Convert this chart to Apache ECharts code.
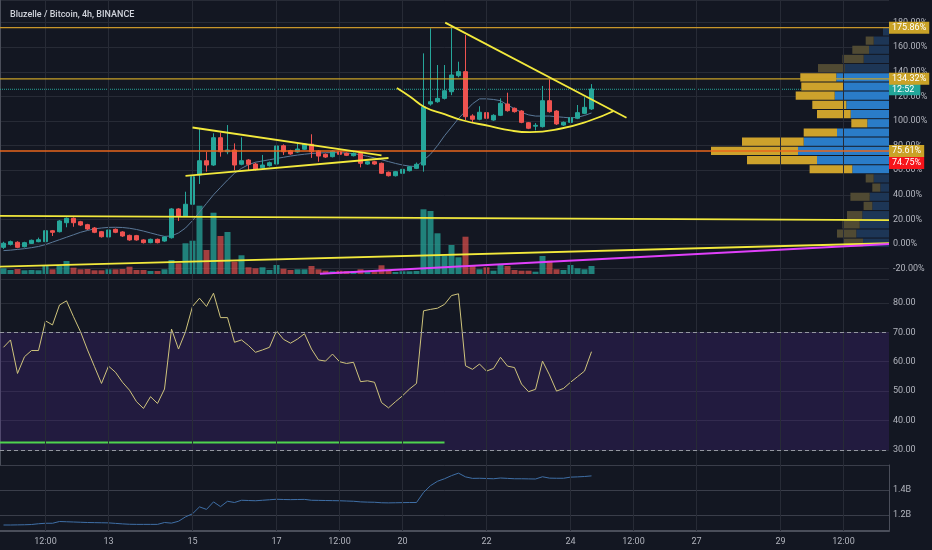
<!DOCTYPE html>
<html>
<head>
<meta charset="utf-8">
<script src="https://cdn.jsdelivr.net/npm/echarts@6.0.0/dist/echarts.min.js"></script>
<style>
  html, body { margin: 0; padding: 0; background: #131722; }
  #chart { width: 932px; height: 550px; }
</style>
</head>
<body>
<div id="chart"></div>
<script>
// ---------- time slots (4h candles, starting day 10 12:00) ----------
const slots = [];
for (let i = 0; i < 127; i++) {
  const h = 12 + 4 * i;
  slots.push((10 + Math.floor(h / 24)) + ' ' + String(h % 24).padStart(2, '0') + ':00');
}
const tickIndex = [6, 15, 27, 39, 48, 57, 69, 81, 90, 99, 111, 120];
const tickText = ['12:00', '13', '15', '17', '12:00', '20', '22', '24', '12:00', '27', '29', '12:00'];

// ---------- candles: [open, close, low, high] in % ----------
const candles = [
  [-2.7, 0.6, -4.0, 1.8], [-0.3, 1.9, -1.2, 2.8], [1.4, -2.7, -3.4, 2.2], [-2.2, 1.1, -2.8, 1.8],
  [0.5, 3.0, 0.0, 3.6], [1.9, 3.5, 1.4, 5.2], [1.9, 10.8, 1.4, 11.6], [10.8, 9.5, 6.5, 11.4],
  [10.0, 18.7, 9.4, 19.4], [17.3, 20.9, 13.6, 21.6], [20.9, 17.3, 14.0, 21.6], [18.1, 15.4, 14.6, 18.8],
  [15.7, 12.2, 11.4, 16.4], [13.0, 9.5, 8.8, 13.8], [10.0, 5.9, 5.2, 10.6], [5.7, 11.4, 5.0, 12.0],
  [11.9, 9.5, 8.8, 12.6], [9.8, 6.5, 5.8, 10.4], [7.0, 3.3, 2.6, 7.6], [6.8, 3.3, 2.7, 7.4],
  [3.3, 1.1, 0.4, 3.9], [1.1, 3.8, 0.6, 4.4], [3.8, 1.1, 0.5, 4.4], [2.4, 5.7, 1.8, 6.3],
  [5.1, 28.5, 4.4, 29.2], [28.5, 22.8, 18.7, 29.1], [22.8, 32.3, 22.0, 42.5], [32.3, 54.7, 31.5, 56.0],
  [56.1, 67.7, 48.8, 94.0], [67.7, 64.2, 58.8, 75.0], [64.2, 86.4, 63.5, 90.0], [86.4, 75.0, 71.0, 90.5],
  [75.0, 76.4, 73.0, 96.7], [76.4, 64.2, 60.0, 81.8], [64.8, 67.7, 64.0, 86.7], [68.3, 64.8, 59.4, 69.0],
  [65.0, 60.7, 59.8, 66.0], [62.0, 64.2, 61.3, 72.4], [63.7, 66.1, 63.0, 67.0], [65.0, 79.7, 64.3, 81.8],
  [79.9, 75.0, 72.4, 81.0], [75.9, 73.2, 72.5, 76.6], [74.8, 77.2, 74.2, 81.8], [77.0, 81.3, 76.4, 82.0],
  [81.1, 75.0, 70.0, 89.2], [75.6, 71.5, 66.9, 76.3], [72.9, 70.7, 70.0, 73.6], [71.0, 75.6, 70.4, 76.4],
  [75.0, 72.9, 72.3, 75.7], [73.7, 72.1, 71.5, 74.4], [71.8, 73.7, 71.2, 74.4], [73.7, 65.6, 62.3, 74.8],
  [65.0, 66.9, 64.4, 67.6], [66.9, 65.0, 64.4, 67.6], [65.6, 57.5, 56.9, 66.2], [58.3, 55.5, 54.9, 58.9],
  [55.5, 58.8, 54.9, 59.4], [57.5, 60.7, 56.9, 61.3], [59.6, 62.8, 59.0, 63.4], [61.5, 64.8, 60.9, 66.2],
  [64.2, 111.6, 58.8, 155.0], [113.8, 115.7, 112.5, 175.4], [115.7, 118.4, 114.8, 145.5], [118.4, 124.6, 117.5, 145.5],
  [123.8, 137.4, 121.0, 176.7], [136.8, 140.1, 135.5, 148.2], [140.1, 103.5, 100.8, 169.9], [104.1, 101.4, 98.6, 105.5],
  [101.4, 107.1, 100.6, 112.0], [106.8, 102.2, 101.4, 109.0], [100.8, 104.6, 100.2, 105.5], [104.6, 114.4, 104.0, 118.4],
  [113.8, 108.4, 107.6, 123.0], [110.3, 107.6, 106.8, 111.0], [108.1, 98.9, 98.2, 108.8], [98.6, 94.1, 93.4, 99.2],
  [95.8, 96.5, 92.4, 98.3], [95.4, 116.5, 94.7, 128.5], [116.5, 107.6, 106.8, 133.9], [108.1, 97.6, 96.8, 108.8],
  [96.7, 98.9, 96.0, 99.6], [98.9, 102.7, 98.2, 120.3], [102.2, 106.8, 101.5, 113.0], [106.2, 111.1, 105.5, 119.3],
  [109.8, 126.0, 109.0, 130.0]
];

// moving average line
const maValues = [
  -5.4, -5.0, -4.4, -3.8, -3.0, -2.0, -0.5, 1.5, 3.5, 5.5, 7.5, 9.5, 11.0, 12.3, 13.0, 13.5, 13.6, 13.4, 12.8, 11.8,
  10.5, 9.0, 7.5, 6.2, 6.5, 9.0, 13.0, 19.0, 26.0, 33.0, 40.0, 46.0, 52.0, 57.5, 61.5, 64.5, 66.5, 67.5, 68.5, 69.5,
  70.5, 71.5, 72.3, 73.0, 73.6, 74.0, 74.2, 74.3, 74.2, 74.0, 73.5, 72.5, 71.3, 70.0, 68.5, 67.0, 65.5, 64.2, 63.3, 63.0,
  68.0, 73.0, 80.0, 88.0, 95.0, 102.0, 108.0, 114.0, 118.0, 118.0, 117.5, 116.5, 113.0, 110.0, 107.0, 105.0, 104.0, 104.0, 104.0, 103.5,
  103.0, 102.5, 103.0, 104.5, 106.5
];

// relative volume
const volumes = [
  5.7, 4, 5, 3.7, 4, 3.7, 8, 4.7, 8, 13, 6.3, 4.7, 5, 3.7, 3.7, 4.7, 4.7, 5, 7.3, 4,
  4, 3, 3, 4.7, 14, 10.7, 30.7, 33.3, 68.3, 24, 61.3, 38, 42, 12.3, 18.7, 6.7, 5.7, 6.7, 4, 9,
  5.3, 4, 4.7, 4.7, 8, 4.7, 3.3, 2.7, 3.3, 3, 3, 4.7, 2.7, 2.7, 8.7, 3.7, 2, 2.7, 2.7, 3,
  64.7, 63, 40.7, 18, 29, 16.7, 37.3, 9, 4.7, 6.7, 3.3, 9, 8, 4, 3.3, 3.3, 2.3, 18, 13.3, 4.7,
  4, 9, 5.7, 4.7, 8
];

// RSI
const rsiValues = [
  64.9, 67.4, 56.0, 61.7, 63.8, 63.8, 73.9, 72.5, 79.3, 80.7, 75.3, 70.2, 64.0, 58.3, 52.6, 58.5, 56.4, 53.0, 50.3, 46.4,
  44.1, 48.1, 45.8, 50.7, 71.1, 64.3, 70.2, 78.8, 81.6, 78.8, 83.3, 75.0, 75.0, 66.6, 67.4, 65.5, 63.2, 64.0, 64.9, 70.5,
  67.6, 66.3, 67.7, 69.5, 64.3, 60.6, 60.2, 62.6, 60.0, 59.4, 59.8, 53.2, 53.5, 53.0, 46.1, 44.3, 46.4, 48.4, 50.7, 52.6,
  77.3, 77.8, 78.2, 79.5, 82.5, 83.1, 58.6, 57.4, 59.2, 56.8, 57.7, 61.5, 58.5, 58.0, 52.4, 49.8, 50.6, 60.2, 55.5, 50.0,
  50.9, 53.0, 54.9, 56.8, 63.4
];
const rsiBandLow = 30, rsiBandHigh = 70;
const rsiGreenLevel = [[0, 32.5], [63.5, 32.5]];

// OBV (billions)
const obvValues = [
  1.120, 1.120, 1.121, 1.122, 1.124, 1.130, 1.134, 1.134, 1.148, 1.146, 1.144, 1.142, 1.140, 1.139, 1.138, 1.137, 1.133, 1.129, 1.126, 1.125,
  1.125, 1.125, 1.125, 1.140, 1.135, 1.150, 1.185, 1.210, 1.265, 1.245, 1.305, 1.267, 1.310, 1.300, 1.318, 1.316, 1.314, 1.318, 1.322, 1.326,
  1.324, 1.323, 1.324, 1.325, 1.318, 1.317, 1.316, 1.315, 1.314, 1.312, 1.310, 1.305, 1.303, 1.302, 1.298, 1.297, 1.298, 1.299, 1.300, 1.300,
  1.380, 1.435, 1.470, 1.490, 1.515, 1.535, 1.505, 1.493, 1.494, 1.492, 1.490, 1.496, 1.493, 1.490, 1.490, 1.489, 1.488, 1.506, 1.495, 1.494,
  1.494, 1.503, 1.505, 1.508, 1.513
];

// price levels (horizontal lines with badges)
const levelValues = [175.86, 134.32, 74.75, 75.61];
const currentPrice = 125.8;
const countdownText = '12:52';

// trend lines: [slot position, %]
const trendFlat = [[0, 22.9], [127, 19.4]];
const trendRising = [[0, -18.4], [127, 0.6]];
const trendMagenta = [[45.7, -24.2], [127, 0]];
const triUpper = [[27.5, 94.7], [54.5, 72.1]];
const triLower = [[26.5, 55.3], [55.5, 69.9]];
const wedgeTop = [[63.6, 180.0], [89.5, 102.6]];
const cupCurve = [[56.7, 126.9], [58.6, 119.8], [60.7, 111.2], [63.6, 105.3], [66.2, 100.4], [70, 95.8],
                  [72.9, 92.3], [75.7, 90.9], [80, 93.7], [84.3, 100.4], [87.6, 107.9]];

// volume profile rows: edges in %, up (blue) and down (gold) volume, value area flag
const vpEdges = [-2.7, 4.8, 12.2, 19.7, 27.2, 34.7, 42.1, 49.6, 57.1, 64.5, 72.0, 79.5, 86.9,
                 94.4, 101.9, 109.4, 116.8, 124.3, 131.8, 139.2, 146.7, 154.2, 161.6, 169.1, 176.6];
const vpUp   = [26, 32.7, 29.3, 26.7, 16.7, 19.3, 8.7, 15.3, 36.7, 72, 91, 85.3, 52, 21.7, 38.3, 42.7, 54.3, 46, 52.7, 44.3, 25.3, 20, 15.3, 6];
const vpDown = [20, 19.3, 17.3, 15.3, 8.7, 19.3, 8, 8, 42.7, 70, 87, 61.7, 33.3, 16, 33.7, 34, 39, 41.7, 36, 26.7, 21.3, 16.7, 8, 0];
const vpInValueArea = [0, 0, 0, 0, 0, 0, 0, 0, 1, 1, 1, 1, 1, 1, 1, 1, 1, 1, 1, 0, 0, 0, 0, 0];

// ---------- build ----------
const FONT = 'Roboto, "Liberation Sans", sans-serif';
const GRID_C = '#272b36';
const LABEL_C = '#b2b5be';
const UP = '#26a69a', DOWN = '#ef5350';
const SLOT_END = 127;

const vpData = vpUp.map((u, k) => [vpEdges[k], vpEdges[k + 1], u, vpDown[k], vpInValueArea[k]]);
const volData = volumes.map((v, i) => ({
  value: v,
  itemStyle: { color: candles[i][1] >= candles[i][0] ? 'rgba(38,166,154,0.75)' : 'rgba(239,83,80,0.65)' }
}));
const vLines = tickIndex.map(i => ({ xAxis: i }));
const showTick = (idx) => tickIndex.indexOf(idx) >= 0;

function badge(text, bg, extra) {
  return Object.assign({
    show: true, distance: 0, formatter: text,
    backgroundColor: bg, color: '#ffffff', fontSize: 9, fontFamily: FONT,
    padding: [2, 3, 1, 3], align: 'left', verticalAlign: 'middle'
  }, extra || {});
}
function catAxis(grid, extra) {
  return Object.assign({
    type: 'category', gridIndex: grid, data: slots, boundaryGap: true,
    axisLine: { show: false }, axisTick: { show: false }, axisLabel: { show: false }, splitLine: { show: false }
  }, extra || {});
}
function gridLinesSeries(xi, yi) {
  return {
    type: 'line', xAxisIndex: xi, yAxisIndex: yi, data: [], z: 1, silent: true,
    markLine: { silent: true, symbol: ['none', 'none'], animation: false, label: { show: false },
      lineStyle: { color: GRID_C, type: 'solid', width: 1 }, data: vLines }
  };
}
// horizontal level line drawn as a 2-point line series, with badge as end label
function levelSeries(value, lineColor, lineType, lineWidth, label, z) {
  return {
    type: 'line', xAxisIndex: 4, yAxisIndex: 0, z: z, silent: true, symbol: 'none',
    data: [[0, value], [SLOT_END, value]],
    lineStyle: { color: lineColor, type: lineType, width: lineWidth },
    endLabel: label
  };
}
function trend(data, color, width, smooth) {
  return { type: 'line', xAxisIndex: 4, yAxisIndex: 0, data: data, symbol: 'none', smooth: !!smooth,
    silent: true, z: 6, lineStyle: { color: color, width: width } };
}

const option = {
  backgroundColor: '#131722',
  animation: false,
  textStyle: { fontFamily: FONT },
  title: {
    text: 'Bluzelle / Bitcoin, 4h, BINANCE', left: 5, top: 5,
    textStyle: { color: '#d1d4dc', fontSize: 9, fontWeight: 500, fontFamily: FONT }
  },
  grid: [
    { left: 0, right: 43, top: 0, height: 279, outerBoundsMode: 'none' },
    { left: 0, right: 43, top: 124, height: 150, outerBoundsMode: 'none' },
    { left: 0, right: 43, top: 279, height: 186, outerBoundsMode: 'none' },
    { left: 0, right: 43, top: 465, height: 66, outerBoundsMode: 'none' }
  ],
  xAxis: [
    catAxis(0), catAxis(1), catAxis(2),
    catAxis(3, {
      axisLine: { show: true, lineStyle: { color: '#4a4e5a', width: 2 } },
      axisLabel: { show: true, interval: (idx) => showTick(idx), color: LABEL_C, fontSize: 9, margin: 6,
        fontFamily: FONT, formatter: (v, idx) => tickText[tickIndex.indexOf(idx)] || '' }
    }),
    { type: 'value', gridIndex: 0, min: 0, max: SLOT_END, show: false },
    { type: 'value', gridIndex: 0, min: 0, max: 889, inverse: true, show: false },
    { type: 'value', gridIndex: 2, min: 0, max: SLOT_END, show: false }
  ],
  yAxis: [
    { type: 'value', gridIndex: 0, position: 'right', min: -28.46, max: 198.37, splitNumber: 11,
      axisLine: { show: true, lineStyle: { color: '#4a4e5a' } }, axisTick: { show: false },
      axisLabel: { color: LABEL_C, fontSize: 9, margin: 4, fontFamily: FONT, showMinLabel: false, showMaxLabel: false,
        formatter: v => v.toFixed(2) + '%' },
      splitLine: { lineStyle: { color: GRID_C } } },
    { type: 'value', gridIndex: 1, min: 0, max: 150, show: false },
    { type: 'value', gridIndex: 2, position: 'right', min: 24.86, max: 88.13, splitNumber: 6,
      axisLine: { show: true, lineStyle: { color: '#4a4e5a' } }, axisTick: { show: false },
      axisLabel: { color: LABEL_C, fontSize: 9, margin: 4, fontFamily: FONT, showMinLabel: false, showMaxLabel: false,
        formatter: v => v.toFixed(2) },
      splitLine: { lineStyle: { color: GRID_C } } },
    { type: 'value', gridIndex: 3, position: 'right', min: 1.072, max: 1.6, splitNumber: 3,
      axisLine: { show: true, lineStyle: { color: '#4a4e5a' } }, axisTick: { show: false },
      axisLabel: { color: LABEL_C, fontSize: 9, margin: 4, fontFamily: FONT, showMinLabel: false, showMaxLabel: false,
        formatter: v => v.toFixed(1) + 'B' },
      splitLine: { lineStyle: { color: '#3a3e4a' } } }
  ],
  series: [
    gridLinesSeries(0, 0),
    gridLinesSeries(2, 2),
    gridLinesSeries(3, 3),
    // volume
    { type: 'bar', xAxisIndex: 1, yAxisIndex: 1, data: volData, barWidth: 6, silent: true, z: 2 },
    // current price dotted line
    levelSeries(currentPrice, '#26a69a', 'dotted', 1, badge(countdownText, '#22a699', { padding: [2, 6, 1, 3] }), 2),
    // volume profile
    { type: 'custom', xAxisIndex: 5, yAxisIndex: 0, data: vpData, silent: true, z: 3,
      encode: { x: [2, 3], y: [0, 1] },
      renderItem: function (params, api) {
        const lo = api.value(0), hi = api.value(1), b = api.value(2), g = api.value(3), va = api.value(4);
        const pTop = api.coord([0, hi]);
        const pB = api.coord([b, lo]);
        const pG = api.coord([b + g, lo]);
        const y = pTop[1] + 0.5, h = pB[1] - pTop[1] - 1;
        return { type: 'group', children: [
          { type: 'rect', shape: { x: pB[0], y: y, width: pTop[0] - pB[0], height: h },
            style: { fill: va ? '#2a7cc8' : '#1d3656' } },
          { type: 'rect', shape: { x: pG[0], y: y, width: pB[0] - pG[0], height: h },
            style: { fill: va ? '#cda22c' : '#504a33' } }
        ] };
      } },
    // candles
    { type: 'candlestick', xAxisIndex: 0, yAxisIndex: 0, data: candles, barWidth: 5, z: 4, silent: true,
      itemStyle: { color: UP, color0: DOWN, borderColor: UP, borderColor0: DOWN, borderWidth: 1 } },
    // moving average
    { type: 'line', xAxisIndex: 0, yAxisIndex: 0, data: maValues, symbol: 'none', z: 4, silent: true,
      lineStyle: { color: '#5a7898', width: 1 } },
    // price levels
    levelSeries(levelValues[0], '#c8962a', 'solid', 1.2, badge(levelValues[0].toFixed(2) + '%', '#c9a227'), 5),
    levelSeries(levelValues[1], '#c9a227', 'solid', 1.2, badge(levelValues[1].toFixed(2) + '%', '#c9a227'), 5),
    levelSeries(levelValues[2], 'rgba(0,0,0,0)', 'solid', 1, badge(levelValues[2].toFixed(2) + '%', '#f7141a', { offset: [0, 11] }), 5),
    levelSeries(levelValues[3], '#e8661c', 'solid', 1.5, badge(levelValues[3].toFixed(2) + '%', '#c9a227'), 5),
    // trend lines
    trend(trendFlat, '#f2e93c', 1.8),
    trend(trendRising, '#f2e93c', 1.8),
    trend(trendMagenta, '#e040fb', 1.8),
    trend(triUpper, '#f2e93c', 1.8),
    trend(triLower, '#f2e93c', 1.8),
    trend(wedgeTop, '#f2e93c', 1.8),
    trend(cupCurve, '#f2e93c', 1.8, true),
    // RSI band + levels
    { type: 'line', xAxisIndex: 2, yAxisIndex: 2, data: [], z: 1, silent: true,
      markArea: { silent: true, itemStyle: { color: 'rgba(110,45,205,0.17)' },
        data: [[{ yAxis: rsiBandLow }, { yAxis: rsiBandHigh }]] },
      markLine: { silent: true, symbol: ['none', 'none'], label: { show: false }, animation: false,
        lineStyle: { color: '#9598a1', type: [4, 3], width: 1 },
        data: [{ yAxis: rsiBandLow }, { yAxis: rsiBandHigh }] } },
    { type: 'line', xAxisIndex: 2, yAxisIndex: 2, data: rsiValues, symbol: 'none', z: 4, silent: true,
      lineStyle: { color: '#cfc47c', width: 1 } },
    { type: 'line', xAxisIndex: 6, yAxisIndex: 2, data: rsiGreenLevel, symbol: 'none', z: 4, silent: true,
      lineStyle: { color: '#4fd34f', width: 2 } },
    // OBV
    { type: 'line', xAxisIndex: 3, yAxisIndex: 3, data: obvValues, symbol: 'none', z: 4, silent: true,
      lineStyle: { color: '#3f6fa6', width: 1 } }
  ]
};

const chart = echarts.init(document.getElementById('chart'), null, { renderer: 'canvas' });
chart.setOption(option);
</script>
</body>
</html>
